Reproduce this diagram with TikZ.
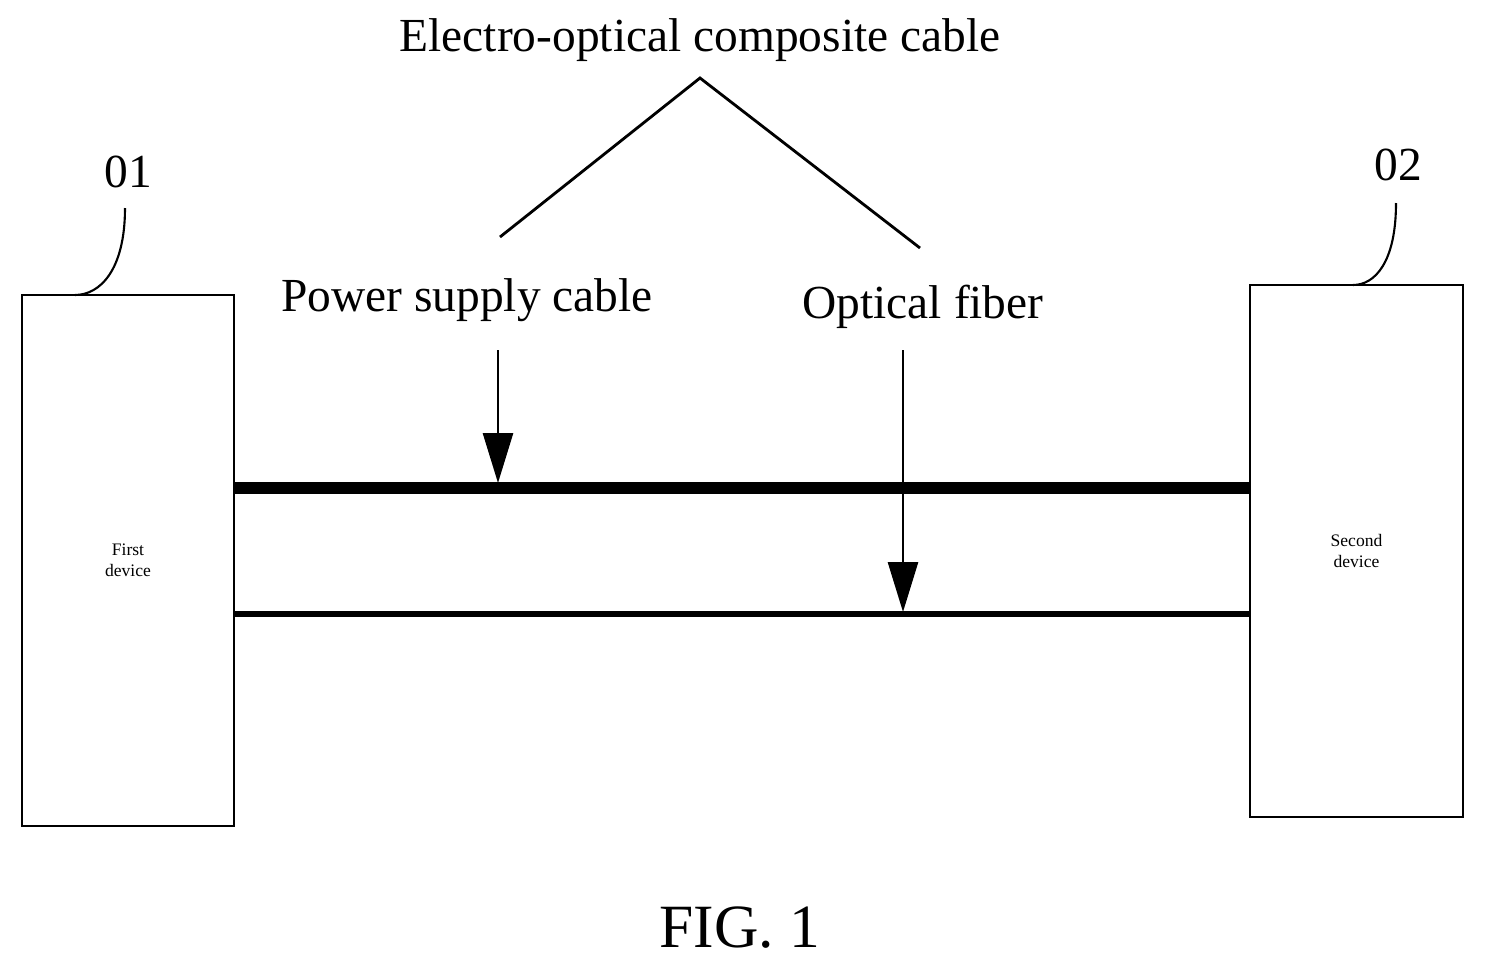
\documentclass[tikz,border=0pt]{standalone}
\usepackage{fontspec}
\setmainfont{Liberation Serif}
\usetikzlibrary{arrows.meta, positioning}

\tikzset{
	dev/.style={draw, line width=1.6pt, minimum width=4.24cm, align=center, inner sep=0pt},
	lbl/.style={font=\fontsize{27}{32}\selectfont, inner sep=0pt},
	pointer/.style={line width=1.6pt, arrows={-Triangle[width=0.6cm, length=1cm]}}
}

\begin{document}
\begin{tikzpicture}[x=0.02cm, y=-0.02cm]
	\useasboundingbox (0,0) rectangle (1485,971);
	\node [dev, minimum height=10.62cm] (first) at (128,560.5) {First\\device};
	\node [dev, minimum height=10.64cm, minimum width=4.26cm] (second) at (1356.5,551) {Second\\device};
	\node [lbl] (n01) at (128,172) {01};
	\node [lbl] (n02) at (1398,165) {02};
	\draw [line width=1.2pt] (125,208) .. controls (125,270) and (100,295) .. (75,295);
	\draw [line width=1.2pt] (1396,203) .. controls (1396,262) and (1375,285) .. (1353,285);
	% cables
	\coordinate (p1) at (234,488); \coordinate (p2) at (1250,488);
	\coordinate (f1) at (234,614); \coordinate (f2) at (1250,614);
	\draw [line width=7pt] (p1) -- (p2);
	\draw [line width=3.4pt] (f1) -- (f2);
	% labels
	\node [lbl] (power) at (467,300) {Power supply cable};
	\node [lbl] (fiber) at (923,307) {Optical fiber};
	\node [lbl] (composite) at (700,40) {Electro-optical composite cable};
	\coordinate (apex) at (700,78);
	\draw [line width=1.6pt] (500,237) -- (apex) -- (920,248);
	\draw [pointer] (498,350) -- (498,483);
	\draw [pointer] (903,350) -- (903,612);
	\node [font=\fontsize{35}{40}\selectfont, inner sep=0pt] (fig) at (740,928) {FIG. 1};
\end{tikzpicture}
\end{document}
